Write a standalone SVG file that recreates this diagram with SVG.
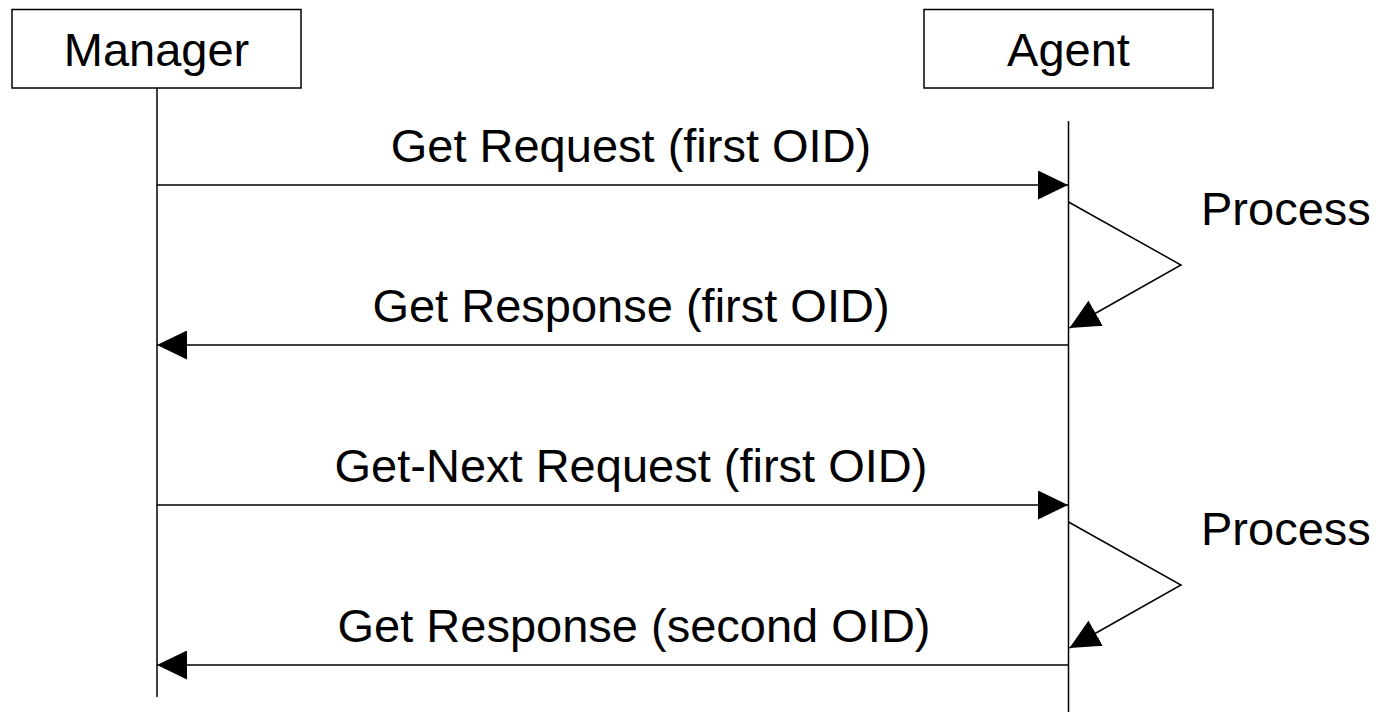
<svg xmlns="http://www.w3.org/2000/svg" width="1389" height="712" viewBox="0 0 1389 712">
<style>
.box{fill:#fff;stroke:#000;stroke-width:1.5}
.ln{fill:none;stroke:#000;stroke-width:1.5}
.t{font-family:"Liberation Sans",Arial,sans-serif;font-size:47px;fill:#000}
.m{text-anchor:middle}
</style>
<defs>
<marker id="ah" viewBox="0 0 30 29" refX="30" refY="14.5" markerWidth="30" markerHeight="29" markerUnits="userSpaceOnUse" orient="auto">
<path d="M0,0 L30,14.5 L0,29 z" fill="#000"/>
</marker>
</defs>
<g id="manager">
<rect class="box" x="12" y="9.5" width="289" height="78.5"/>
<text class="t m" x="156.5" y="66">Manager</text>
</g>
<g id="agent">
<rect class="box" x="924" y="9.5" width="289" height="78.5"/>
<text class="t m" x="1068.5" y="66">Agent</text>
</g>
<g id="lifelines">
<line class="ln" x1="157" y1="88" x2="157" y2="697"/>
<line class="ln" x1="1068.5" y1="121" x2="1068.5" y2="712"/>
</g>
<g id="connectors">
<line class="ln" x1="157" y1="185" x2="1068" y2="185" marker-end="url(#ah)"/>
<text class="t m" x="631" y="162">Get Request (first OID)</text>
<polyline class="ln" points="1068.5,202 1181,265 1069.5,328" marker-end="url(#ah)"/>
<text class="t" x="1201" y="225">Process</text>
<line class="ln" x1="1068" y1="345" x2="157" y2="345" marker-end="url(#ah)"/>
<text class="t m" x="631" y="322">Get Response (first OID)</text>
<line class="ln" x1="157" y1="505" x2="1068" y2="505" marker-end="url(#ah)"/>
<text class="t m" x="631" y="482">Get-Next Request (first OID)</text>
<polyline class="ln" points="1068.5,522 1181,585 1069.5,648" marker-end="url(#ah)"/>
<text class="t" x="1201" y="545">Process</text>
<line class="ln" x1="1068" y1="665" x2="157" y2="665" marker-end="url(#ah)"/>
<text class="t m" x="634" y="642">Get Response (second OID)</text>
</g>
</svg>
